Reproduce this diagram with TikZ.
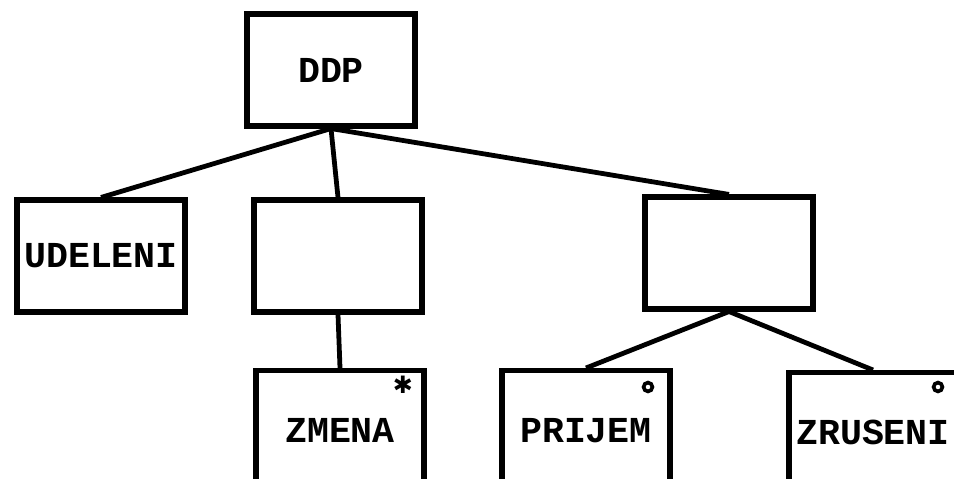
\documentclass[tikz,border=0pt]{standalone}
\usepackage{fontspec}
\newfontfamily\typefont{Liberation Mono}
\newfontfamily\symfont{DejaVu Sans}
\usepackage{tikz}
\usetikzlibrary{positioning}

\begin{document}
\begin{tikzpicture}[x=0.025cm, y=-0.025cm,
  every node/.style={font=\typefont\bfseries\fontsize{26}{30}\selectfont},
  box/.style={draw, line width=3.6pt, inner sep=1pt, minimum width=4.2cm, minimum height=2.8cm},
  lowbox/.style={box, anchor=north, minimum height=3.0cm},
  link/.style={line width=3.4pt},
  ring/.style={circle, draw, line width=2.6pt, inner sep=0pt, minimum size=0.22cm}]
  \useasboundingbox (0,0) rectangle (954,479);
  \clip (0,0) rectangle (954,479);
  % upper levels
  \node[box] (ddp) at (331,70) {DDP};
  \node[box] (udeleni) at (101,256) {UDELENI};
  \node[box] (midbox) at (338,256) {};
  \node[box] (rightbox) at (729,253) {};
  % lowest level, cut off by the page edge
  \node[lowbox] (zmena) at (340,368) {ZMENA};
  \node[lowbox] (prijem) at (586,368) {PRIJEM};
  \node[lowbox] (zruseni) at (873,370) {ZRUSENI};
  \node[inner sep=0pt, font=\symfont\fontsize{17}{17}\selectfont] (zmenamark) at (403,385) {✱};
  \node[ring] (prijemmark) at (648,387) {};
  \node[ring] (zrusenimark) at (938,387) {};
  \draw[link] (ddp.south) -- (udeleni.north);
  \draw[link] (ddp.south) -- (midbox.north);
  \draw[link] (ddp.south) -- (rightbox.north);
  \draw[link] (midbox.south) -- (zmena.north);
  \draw[link] (rightbox.south) -- (prijem.north);
  \draw[link] (rightbox.south) -- (zruseni.north);
\end{tikzpicture}
\end{document}
